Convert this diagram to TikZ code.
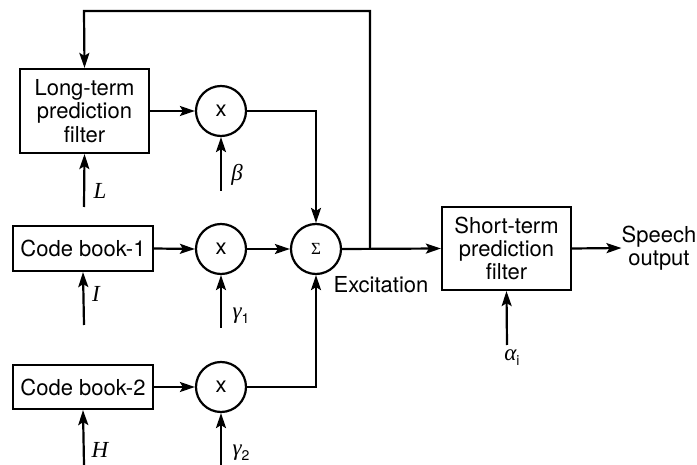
\documentclass[tikz,border=0pt]{standalone}
\usepackage{fontspec}
\setmainfont{TeX Gyre Heros}
\newfontfamily\lf{Liberation Serif}
\usetikzlibrary{arrows.meta}
\newcommand{\symb}[1]{{\fontsize{23}{23}\selectfont\lf\itshape #1}}
\newcommand{\subs}[1]{\raisebox{-5pt}{\fontsize{14}{14}\selectfont #1}}
\begin{document}
\begin{tikzpicture}[x=1pt,y=-1pt,
  every node/.style={font=\fontsize{22}{23.3}\selectfont},
  blk/.style={draw,line width=2.2pt,inner sep=0pt,align=center},
  mult/.style={draw,circle,line width=2.2pt,minimum size=50pt,inner sep=0pt},
  con/.style={line width=2.2pt,-{Stealth[length=15pt,width=10pt,inset=3pt]}},
  lab/.style={inner sep=0pt}]
\useasboundingbox (0,0) rectangle (697,465);
\node[blk,minimum width=129pt,minimum height=84pt] (ltp) at (84.5,111) {Long-term\\prediction\\filter};
\node[mult] (m1) at (221,111) {x};
\node[blk,minimum width=140pt,minimum height=45pt] (cb1) at (83,248.5) {Code book-1};
\node[mult] (m2) at (221,249) {x};
\node[mult] (sum) at (316,249) {{\fontsize{17}{17}\selectfont\lf Σ}};
\node[blk,minimum width=140pt,minimum height=44pt] (cb2) at (83,387) {Code book-2};
\node[mult] (m3) at (221,387) {x};
\node[blk,minimum width=129pt,minimum height=83pt] (stp) at (506.5,248.5) {Short-term\\prediction\\filter};
\node[lab,align=center] (out) at (659,248) {Speech\\output};
\node[lab] (exc) at (381,285) {Excitation};
\coordinate (j) at (370,249);
\coordinate (tr) at (370,11);
\coordinate (tl) at (84,11);
\coordinate (pL) at (84,207);
\coordinate (pb) at (221,191);
\coordinate (pI) at (84,325);
\coordinate (pg1) at (221,328);
\coordinate (pH) at (84,465);
\coordinate (pg2) at (221,465);
\coordinate (pa) at (507,345);
% labels
\node[lab] (lL) at (100,191) {\symb{L}};
\node[lab] (lb) at (237,175) {\symb{β}};
\node[lab] (lI) at (96,294) {\symb{I}};
\node[lab] (lg1) at (241,316) {\symb{γ}\subs{1}};
\node[lab] (lH) at (100,450) {\symb{H}};
\node[lab] (lg2) at (241,453) {\symb{γ}\subs{2}};
\node[lab] (la) at (512,358) {\symb{α}\subs{i}};
% connectors
\draw[con] (ltp.east) -- (m1.west);
\draw[con] (m1.east) -| (sum.north);
\draw[con] (cb1.east) -- (m2.west);
\draw[con] (m2.east) -- (sum.west);
\draw[con] (cb2.east) -- (m3.west);
\draw[con] (m3.east) -| (sum.south);
\draw[con] (sum.east) -- (stp.west);
\draw[con] (j) -- (tr) -- (tl) -- (ltp.north);
\draw[con] (stp.east) -- (out.west);
\draw[con] (pL) -- (ltp.south);
\draw[con] (pb) -- (m1.south);
\draw[con] (pI) -- (cb1.south);
\draw[con] (pg1) -- (m2.south);
\draw[con] (pH) -- (cb2.south);
\draw[con] (pg2) -- (m3.south);
\draw[con] (pa) -- (stp.south);
\end{tikzpicture}
\end{document}
